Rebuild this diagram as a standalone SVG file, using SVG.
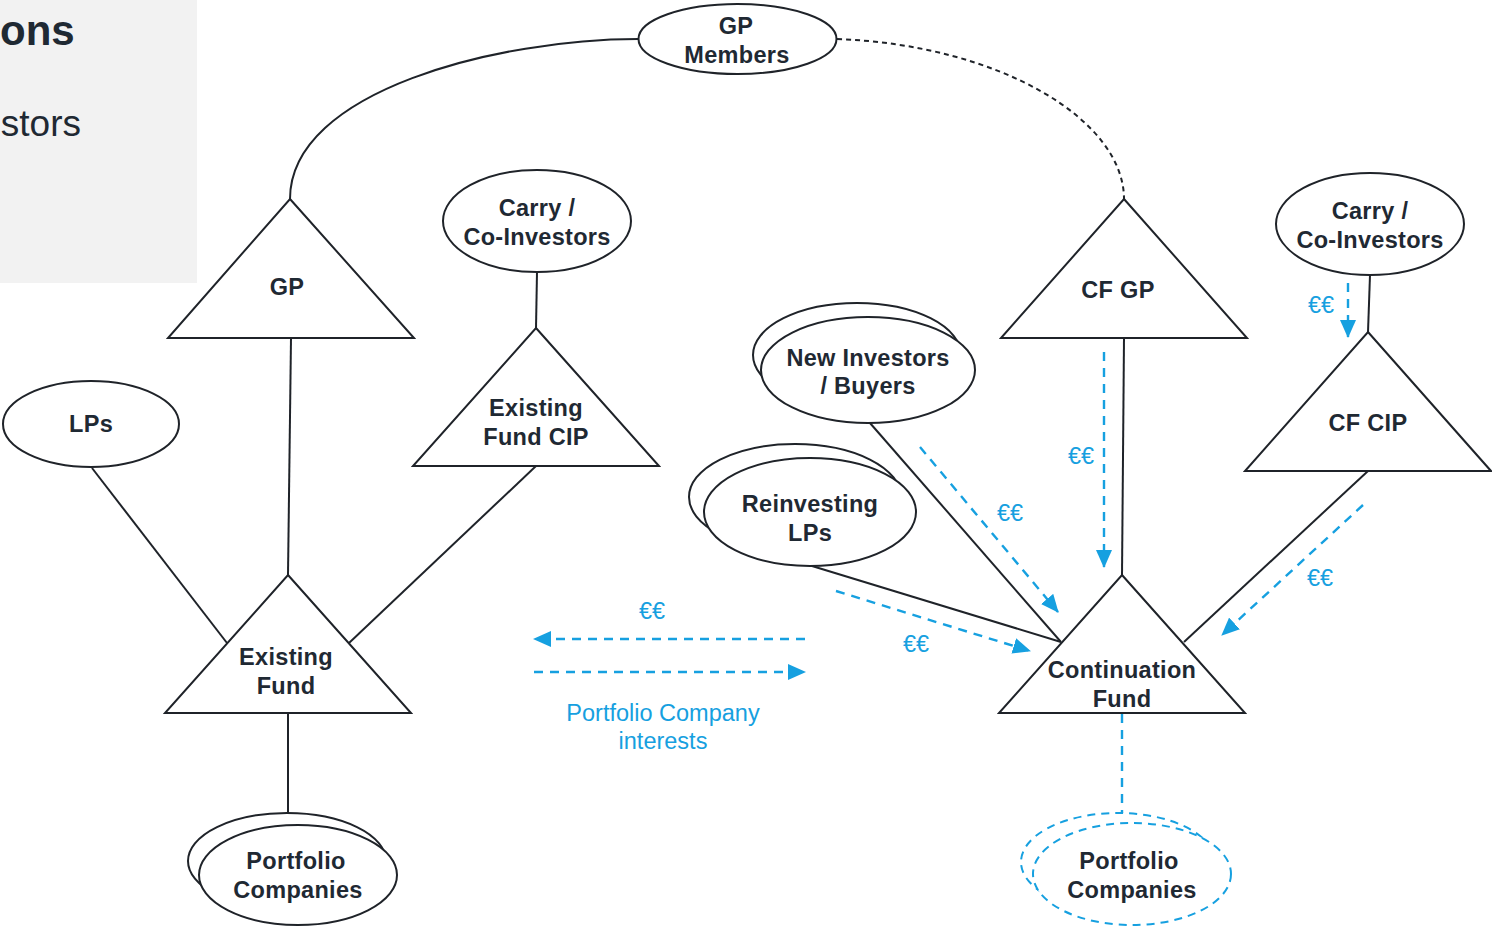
<svg xmlns="http://www.w3.org/2000/svg" width="1492" height="928" viewBox="0 0 1492 928">
  <style>
    .shape { fill: #ffffff; stroke: #1f2329; stroke-width: 2; }
    .dshape { fill: #ffffff; stroke: #16a0e0; stroke-width: 2; stroke-dasharray: 8 6; }
    .link { fill: none; stroke: #1f2329; stroke-width: 2; }
    .flow { fill: none; stroke: #16a0e0; stroke-width: 2.4; stroke-dasharray: 9 7; }
    .label { font-family: "Liberation Sans", Arial, sans-serif; font-size: 23.5px; font-weight: bold; fill: #1f2933; text-anchor: middle; letter-spacing: 0.3px; }
    .blue { font-family: "Liberation Sans", Arial, sans-serif; font-size: 23.5px; fill: #16a0e0; text-anchor: middle; }
  </style>
  <defs>
    <marker id="arrow" markerUnits="userSpaceOnUse" markerWidth="18" markerHeight="16" viewBox="0 0 18 16" refX="17" refY="8" orient="auto">
      <path d="M0,0 L18,8 L0,16 Z" fill="#16a0e0"/>
    </marker>
  </defs>

  <rect width="1492" height="928" fill="#ffffff"/>

  <!-- title panel -->
  <g id="title-panel">
    <rect x="0" y="0" width="197" height="283" fill="#f2f2f2"/>
    <text x="0" y="45" font-family="'Liberation Sans', Arial, sans-serif" font-size="42" font-weight="bold" fill="#1f2933">ons</text>
    <text x="81" y="136" font-family="'Liberation Sans', Arial, sans-serif" font-size="37" fill="#1f2933" text-anchor="end">stors</text>
  </g>

  <!-- connectors -->
  <g id="connectors">
    <path class="link" d="M638,39 C500,39 290,90 290,199"/>
    <path class="link" d="M837,39 C1000,45 1124,120 1124,199" stroke-dasharray="5 4" stroke-width="1.3"/>
    <line class="link" x1="291" y1="338" x2="288" y2="575"/>
    <line class="link" x1="537" y1="272" x2="536" y2="328"/>
    <line class="link" x1="92" y1="468" x2="227" y2="643"/>
    <line class="link" x1="536" y1="466" x2="349" y2="643"/>
    <line class="link" x1="288" y1="713" x2="288" y2="814"/>
    <line class="link" x1="870" y1="423" x2="1061" y2="642"/>
    <line class="link" x1="812" y1="566" x2="1061" y2="642"/>
    <line class="link" x1="1124" y1="338" x2="1122" y2="575"/>
    <line class="link" x1="1370" y1="275" x2="1368" y2="332"/>
    <line class="link" x1="1368" y1="471" x2="1184" y2="642"/>
    <line class="flow" x1="1122" y1="714" x2="1122" y2="813"/>

    <!-- cash and interest flows -->
    <line class="flow" x1="1348" y1="283" x2="1348" y2="337" marker-end="url(#arrow)"/>
    <line class="flow" x1="1104" y1="352" x2="1104" y2="567" marker-end="url(#arrow)"/>
    <line class="flow" x1="920" y1="447" x2="1058" y2="612" marker-end="url(#arrow)"/>
    <line class="flow" x1="836" y1="591" x2="1030" y2="651" marker-end="url(#arrow)"/>
    <line class="flow" x1="1363" y1="505" x2="1222" y2="635" marker-end="url(#arrow)"/>
    <line class="flow" x1="805" y1="639" x2="534" y2="639" marker-end="url(#arrow)"/>
    <line class="flow" x1="534" y1="672" x2="805" y2="672" marker-end="url(#arrow)"/>

    <text class="blue" x="1321" y="313">€€</text>
    <text class="blue" x="1081" y="464">€€</text>
    <text class="blue" x="1010" y="521">€€</text>
    <text class="blue" x="916" y="652">€€</text>
    <text class="blue" x="1320" y="586">€€</text>
    <text class="blue" x="652" y="619">€€</text>
    <text class="blue" x="663" y="721">Portfolio Company</text>
    <text class="blue" x="663" y="749">interests</text>
  </g>

  <!-- nodes -->
  <g id="gp-members">
    <ellipse class="shape" cx="737.5" cy="39" rx="99" ry="35"/>
    <text class="label" x="736" y="34">GP</text>
    <text class="label" x="737" y="63">Members</text>
  </g>

  <g id="gp">
    <polygon class="shape" points="290,199 414,338 168,338"/>
    <text class="label" x="287" y="295">GP</text>
  </g>

  <g id="carry-left">
    <ellipse class="shape" cx="537" cy="221" rx="94" ry="51"/>
    <text class="label" x="537" y="216">Carry /</text>
    <text class="label" x="537" y="245">Co-Investors</text>
  </g>

  <g id="existing-fund-cip">
    <polygon class="shape" points="536,328 659,466 413,466"/>
    <text class="label" x="536" y="416">Existing</text>
    <text class="label" x="536" y="445">Fund CIP</text>
  </g>

  <g id="lps">
    <ellipse class="shape" cx="91" cy="424" rx="88" ry="43"/>
    <text class="label" x="91" y="432">LPs</text>
  </g>

  <g id="existing-fund">
    <polygon class="shape" points="288,575 411,713 165,713"/>
    <text class="label" x="286" y="665">Existing</text>
    <text class="label" x="286" y="694">Fund</text>
  </g>

  <g id="portfolio-left">
    <ellipse class="shape" cx="287" cy="861" rx="99" ry="48"/>
    <ellipse class="shape" cx="298" cy="875" rx="99" ry="50"/>
    <text class="label" x="296" y="869">Portfolio</text>
    <text class="label" x="298" y="898">Companies</text>
  </g>

  <g id="new-investors">
    <ellipse class="shape" cx="857" cy="355" rx="104" ry="52"/>
    <ellipse class="shape" cx="868" cy="370" rx="107" ry="53"/>
    <text class="label" x="868" y="366">New Investors</text>
    <text class="label" x="868" y="394">/ Buyers</text>
  </g>

  <g id="reinvesting-lps">
    <ellipse class="shape" cx="795" cy="497" rx="106" ry="53"/>
    <ellipse class="shape" cx="810" cy="512" rx="106" ry="54"/>
    <text class="label" x="810" y="512">Reinvesting</text>
    <text class="label" x="810" y="541">LPs</text>
  </g>

  <g id="cf-gp">
    <polygon class="shape" points="1124,199 1247,338 1001,338"/>
    <text class="label" x="1118" y="298">CF GP</text>
  </g>

  <g id="continuation-fund">
    <polygon class="shape" points="1122,575 1245,713 999,713"/>
    <text class="label" x="1122" y="678">Continuation</text>
    <text class="label" x="1122" y="707">Fund</text>
  </g>

  <g id="carry-right">
    <ellipse class="shape" cx="1370" cy="224" rx="94" ry="51"/>
    <text class="label" x="1370" y="219">Carry /</text>
    <text class="label" x="1370" y="248">Co-Investors</text>
  </g>

  <g id="cf-cip">
    <polygon class="shape" points="1368,332 1491,471 1245,471"/>
    <text class="label" x="1368" y="431">CF CIP</text>
  </g>

  <g id="portfolio-right">
    <ellipse class="dshape" cx="1118" cy="862" rx="97" ry="49"/>
    <ellipse class="dshape" cx="1132" cy="874" rx="99" ry="51"/>
    <text class="label" x="1129" y="869">Portfolio</text>
    <text class="label" x="1132" y="898">Companies</text>
  </g>
</svg>
